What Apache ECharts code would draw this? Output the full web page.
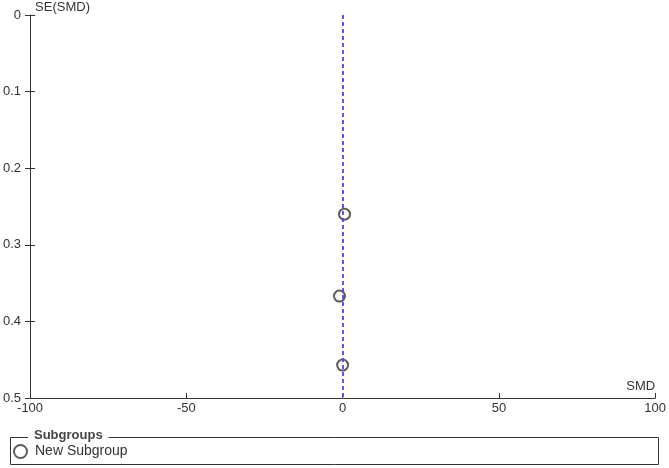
<!DOCTYPE html>
<html>
<head>
<meta charset="utf-8">
<script src="https://cdn.jsdelivr.net/npm/echarts@6/dist/echarts.min.js"></script>
<style>
html,body{margin:0;padding:0;background:#fff;}
#main{width:669px;height:468px;}
</style>
</head>
<body>
<div id="main"></div>
<script>
// study points: SMD and SE(SMD)
var smdValues = [0.6, -1.0, 0.0];
var seValues = [0.26, 0.367, 0.457];
var pooledSmd = 0.2;
var xTicks = [-100, -50, 0, 50, 100];
var yTicks = [0, 0.1, 0.2, 0.3, 0.4, 0.5];
var seriesName = 'New Subgroup';
var legendTitle = 'Subgroups';

var points = [];
for (var i = 0; i < smdValues.length; i++) {
    points.push([smdValues[i], seValues[i]]);
}

var axisCol = '#333';
var font = 'Liberation Sans, Arial, sans-serif';

var option = {
    animation: false,
    textStyle: { fontFamily: font },
    grid: { left: 27, right: 12, top: 15, bottom: 70 },
    xAxis: [{
        type: 'value',
        min: xTicks[0], max: xTicks[xTicks.length - 1], interval: 50,
        name: 'SMD', nameLocation: 'end', nameGap: 0,
        nameTextStyle: { color: axisCol, fontSize: 13, align: 'right', verticalAlign: 'bottom', padding: [0, 0, 5, 0] },
        axisLine: { onZero: false, lineStyle: { color: axisCol, width: 1 } },
        axisTick: { inside: true, length: 5, lineStyle: { color: axisCol } },
        axisLabel: { color: axisCol, fontSize: 13, margin: 4 },
        splitLine: { show: false }
    }],
    yAxis: [{
        type: 'value', inverse: true,
        min: yTicks[0], max: yTicks[yTicks.length - 1], interval: 0.1,
        name: 'SE(SMD)', nameLocation: 'start', nameGap: 0,
        nameTextStyle: { color: axisCol, fontSize: 13, align: 'left', verticalAlign: 'bottom', padding: [0, 0, 1, 5] },
        axisLine: { onZero: false, lineStyle: { color: axisCol, width: 1 } },
        axisTick: { length: 5, lineStyle: { color: axisCol } },
        axisLabel: { color: axisCol, fontSize: 13, margin: 9 },
        splitLine: { show: false }
    }, {
        type: 'value', inverse: true, position: 'left',
        min: yTicks[0], max: yTicks[yTicks.length - 1], interval: 0.1,
        axisLine: { show: false, onZero: false },
        axisTick: { inside: true, length: 5, lineStyle: { color: axisCol } },
        axisLabel: { show: false },
        splitLine: { show: false }
    }],
    legend: {
        left: 8, top: 439,
        itemWidth: 13, itemHeight: 13, itemGap: 10,
        textStyle: { color: axisCol, fontSize: 14, fontFamily: font, padding: [0, 0, 0, 3] },
        data: [seriesName]
    },
    graphic: [
        {
            type: 'rect', left: 8, top: 435, z: -1,
            shape: { width: 648, height: 27 },
            style: { fill: 'none', stroke: axisCol, lineWidth: 1 }
        },
        {
            type: 'text', left: 28, top: 429,
            style: {
                text: legendTitle, fill: '#444', font: 'bold 13px ' + font,
                backgroundColor: '#fff', padding: [0, 6, 0, 6]
            }
        }
    ],
    series: [{
        name: seriesName,
        type: 'scatter',
        symbol: 'emptyCircle',
        symbolSize: 11,
        itemStyle: { color: '#333', borderWidth: 1.3 },
        data: points,
        markLine: {
            silent: true,
            symbol: ['none', 'none'],
            label: { show: false },
            lineStyle: { color: '#4a4ae6', type: [4, 3], width: 1.8, opacity: 1 },
            data: [{ xAxis: pooledSmd }]
        }
    }]
};

var myChart = echarts.init(document.getElementById('main'));
myChart.setOption(option);
</script>
</body>
</html>
